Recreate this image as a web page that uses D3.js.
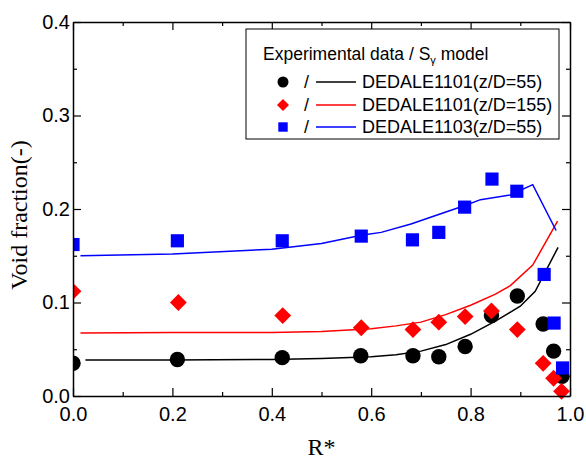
<!DOCTYPE html>
<html>
<head>
<meta charset="utf-8">
<script src="https://cdn.jsdelivr.net/npm/d3@7"></script>
<style>
  body { margin: 0; background: #fff; }
  svg { display: block; }
</style>
</head>
<body>
<div id="chart"></div>
<script>
// measured points (R*, void fraction)
var exp1101_55_r = [0.0, 0.21, 0.421, 0.579, 0.684, 0.736, 0.789, 0.842, 0.894, 0.946, 0.967, 0.984];
var exp1101_55_a = [0.035, 0.039, 0.041, 0.043, 0.043, 0.042, 0.053, 0.086, 0.107, 0.077, 0.048, 0.021];

var exp1101_155_r = [0.0, 0.212, 0.422, 0.58, 0.684, 0.736, 0.789, 0.842, 0.894, 0.946, 0.967, 0.983];
var exp1101_155_a = [0.112, 0.100, 0.086, 0.073, 0.071, 0.079, 0.085, 0.091, 0.071, 0.035, 0.019, 0.005];

var exp1103_55_r = [0.0, 0.21, 0.421, 0.58, 0.683, 0.736, 0.788, 0.843, 0.893, 0.948, 0.968, 0.985];
var exp1103_55_a = [0.162, 0.166, 0.166, 0.171, 0.167, 0.175, 0.202, 0.232, 0.219, 0.130, 0.078, 0.030];

// S_gamma model curves
var mod1101_55_r = [0.025, 0.2, 0.4, 0.5, 0.6, 0.65, 0.7, 0.75, 0.8, 0.85, 0.9, 0.93, 0.976];
var mod1101_55_a = [0.0385, 0.0385, 0.039, 0.040, 0.042, 0.044, 0.048, 0.055, 0.066, 0.080, 0.096, 0.112, 0.159];

var mod1101_155_r = [0.015, 0.2, 0.4, 0.5, 0.6, 0.65, 0.7, 0.75, 0.8, 0.85, 0.88, 0.925, 0.975];
var mod1101_155_a = [0.0675, 0.0678, 0.068, 0.069, 0.072, 0.075, 0.079, 0.087, 0.097, 0.109, 0.118, 0.140, 0.187];

var mod1103_55_r = [0.015, 0.2, 0.4, 0.5, 0.58, 0.62, 0.68, 0.74, 0.79, 0.82, 0.88, 0.925, 0.972];
var mod1103_55_a = [0.150, 0.152, 0.157, 0.163, 0.172, 0.175, 0.184, 0.195, 0.204, 0.210, 0.215, 0.226, 0.177];

var xMajor = [0, 0.2, 0.4, 0.6, 0.8, 1.0];
var xMinor = [0.1, 0.3, 0.5, 0.7, 0.9];
var yMajor = [0, 0.1, 0.2, 0.3, 0.4];
var yMinor = [0.05, 0.15, 0.25, 0.35];

var legendNames = ["DEDALE1101(z/D=55)", "DEDALE1101(z/D=155)", "DEDALE1103(z/D=55)"];

var width = 586, height = 463;
var pLeft = 73, pRight = 570, pTop = 22, pBottom = 396;

var svg = d3.select("#chart").append("svg")
  .attr("width", width)
  .attr("height", height);

var x = d3.scaleLinear().domain([0, 1]).range([pLeft, pRight]);
var y = d3.scaleLinear().domain([0, 0.4]).range([pBottom, pTop]);

svg.append("clipPath").attr("id", "clip")
  .append("rect")
  .attr("x", pLeft).attr("y", pTop)
  .attr("width", pRight - pLeft).attr("height", pBottom - pTop + 4);

function zip(rs, as) {
  return rs.map(function (r, i) { return { r: r, a: as[i] }; });
}

var series = [
  { name: legendNames[0], color: "#000000", shape: "circle", pts: zip(exp1101_55_r, exp1101_55_a), model: zip(mod1101_55_r, mod1101_55_a) },
  { name: legendNames[1], color: "#ff0000", shape: "diamond", pts: zip(exp1101_155_r, exp1101_155_a), model: zip(mod1101_155_r, mod1101_155_a) },
  { name: legendNames[2], color: "#0000ff", shape: "square", pts: zip(exp1103_55_r, exp1103_55_a), model: zip(mod1103_55_r, mod1103_55_a) }
];

function drawMarker(g, shape, cx, cy, s, color) {
  if (shape === "circle") {
    g.append("circle").attr("cx", cx).attr("cy", cy).attr("r", s * 0.55).attr("fill", color);
  } else if (shape === "square") {
    g.append("rect").attr("x", cx - s * 0.47).attr("y", cy - s * 0.47)
      .attr("width", s * 0.94).attr("height", s * 0.94).attr("fill", color);
  } else {
    var h = s * 0.6;
    g.append("path")
      .attr("d", "M" + cx + "," + (cy - h) + "L" + (cx + h) + "," + cy + "L" + cx + "," + (cy + h) + "L" + (cx - h) + "," + cy + "Z")
      .attr("fill", color);
  }
}

var plot = svg.append("g").attr("clip-path", "url(#clip)");

var line = d3.line().x(function (d) { return x(d.r); }).y(function (d) { return y(d.a); });

series.forEach(function (s) {
  plot.append("path")
    .datum(s.model)
    .attr("d", line)
    .attr("fill", "none")
    .attr("stroke", s.color)
    .attr("stroke-width", 1.5);
});

series.forEach(function (s) {
  var g = plot.append("g");
  s.pts.forEach(function (p) {
    drawMarker(g, s.shape, x(p.r), y(p.a), 14, s.color);
  });
});

// frame and inward ticks
function addAxis(axisFn, scale, pos, major, minor, labelled) {
  var tr = (axisFn === d3.axisBottom || axisFn === d3.axisTop) ? "translate(0," + pos + ")" : "translate(" + pos + ",0)";
  var gMaj = svg.append("g").attr("transform", tr)
    .call(axisFn(scale).tickValues(major).tickSizeInner(-8).tickSizeOuter(0)
      .tickPadding(labelled ? 14 : 0)
      .tickFormat(labelled ? d3.format(".1f") : ""));
  gMaj.select(".domain").attr("stroke-width", 1.5);
  var gMin = svg.append("g").attr("transform", tr)
    .call(axisFn(scale).tickValues(minor).tickSizeInner(-4).tickSizeOuter(0).tickFormat(""));
  gMin.select(".domain").remove();
  return gMaj;
}

var xAxisG = addAxis(d3.axisBottom, x, pBottom, xMajor, xMinor, true);
addAxis(d3.axisTop, x, pTop, xMajor, xMinor, false);
var yAxisG = addAxis(d3.axisLeft, y, pLeft, yMajor, yMinor, true);
addAxis(d3.axisRight, y, pRight, yMajor, yMinor, false);

svg.selectAll(".tick line").attr("stroke-width", 1.2);
svg.selectAll(".tick text")
  .attr("font-family", "'Liberation Sans', Arial, sans-serif")
  .attr("font-size", 20)
  .attr("fill", "#000");
xAxisG.selectAll(".tick text").attr("y", 11);
yAxisG.selectAll(".tick text").attr("x", -3);

// axis titles
svg.append("text")
  .attr("x", (pLeft + pRight) / 2).attr("y", 455)
  .attr("text-anchor", "middle")
  .attr("font-family", "'Liberation Serif', 'Times New Roman', serif")
  .attr("font-size", 24)
  .text("R*");

svg.append("text")
  .attr("transform", "translate(27," + ((pTop + pBottom) / 2 + 6) + ") rotate(-90)")
  .attr("text-anchor", "middle")
  .attr("font-family", "'Liberation Serif', 'Times New Roman', serif")
  .attr("font-size", 24)
  .text("Void fraction(-)");

// legend
var lg = svg.append("g")
  .attr("font-family", "'Liberation Sans', Arial, sans-serif")
  .attr("font-size", 18);

lg.append("rect")
  .attr("x", 246).attr("y", 29).attr("width", 313).attr("height", 110)
  .attr("fill", "#fff").attr("stroke", "#000").attr("stroke-width", 1);

var title = lg.append("text").attr("x", 263).attr("y", 60).attr("font-size", 17.5);
title.append("tspan").text("Experimental data / S");
title.append("tspan").attr("font-size", 11).attr("dy", 4).text("γ");
title.append("tspan").attr("dy", -4).text(" model");

var rowY = [82, 105, 127];
series.forEach(function (s, i) {
  var cy = rowY[i];
  drawMarker(lg, s.shape, 283, cy, 10, s.color);
  lg.append("text").attr("x", 304).attr("y", cy + 6).text("/");
  lg.append("line")
    .attr("x1", 316).attr("x2", 356).attr("y1", cy).attr("y2", cy)
    .attr("stroke", s.color).attr("stroke-width", 1.5);
  lg.append("text").attr("x", 362).attr("y", cy + 6).text(s.name);
});
</script>
</body>
</html>
